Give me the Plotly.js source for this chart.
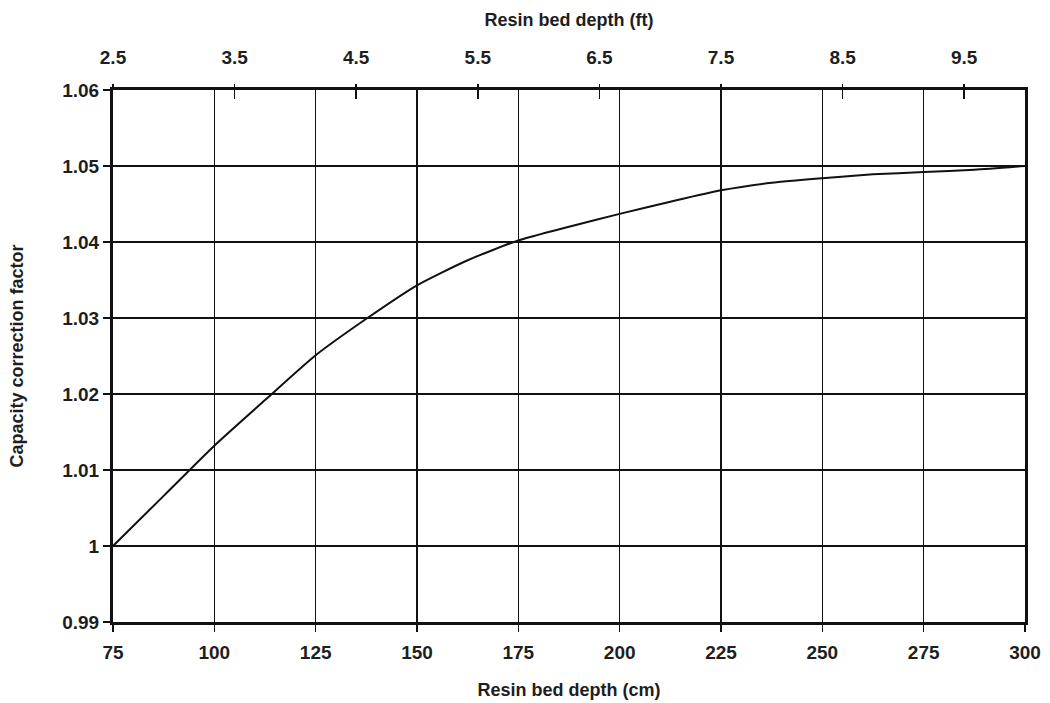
<!DOCTYPE html>
<html>
<head>
<meta charset="utf-8">
<script src="https://cdn.plot.ly/plotly-3.0.1.min.js"></script>
<style>
  html, body { margin: 0; padding: 0; background: #ffffff; }
  #chart { width: 1050px; height: 703px; }
</style>
</head>
<body>
<div id="chart"></div>
<script>
// Resin bed depth (cm) and the matching capacity correction factor
const depthCm = [75, 87.5, 100, 112.5, 125, 137.5, 150, 162.5, 175, 187.5, 200, 212.5, 225, 237.5, 250, 262.5, 275, 287.5, 300];
const correctionFactor = [1.0000, 1.0066, 1.0132, 1.0192, 1.0251, 1.0299, 1.0343, 1.0376, 1.0402, 1.0420, 1.0437, 1.0453, 1.0468, 1.0478, 1.0484, 1.0489, 1.0492, 1.0495, 1.0500];

// Axis ticks
const cmTicks = [75, 100, 125, 150, 175, 200, 225, 250, 275, 300];
const ftTicks = [2.5, 3.5, 4.5, 5.5, 6.5, 7.5, 8.5, 9.5];
const ftRange = [2.5, 10];
const factorTicks = [0.99, 1.00, 1.01, 1.02, 1.03, 1.04, 1.05, 1.06];
const factorLabels = ['0.99', '1', '1.01', '1.02', '1.03', '1.04', '1.05', '1.06'];

const CM_PER_FT = 30.48;
const depthFt = depthCm.map(c => c / CM_PER_FT);

const tickFont = { family: 'Liberation Sans, Arial, sans-serif', size: 19, color: '#1e1e1e', weight: 'bold' };
const titleFont = { family: 'Liberation Sans, Arial, sans-serif', size: 18, color: '#1e1e1e', weight: 'bold' };

const traces = [
  {
    x: depthCm,
    y: correctionFactor,
    type: 'scatter',
    mode: 'lines',
    line: { color: '#111111', width: 2, shape: 'spline', smoothing: 0.6 },
    hoverinfo: 'x+y',
    showlegend: false
  },
  // feet scale along the top edge (no visible marks)
  { x: depthFt, y: correctionFactor, xaxis: 'x2', type: 'scatter', mode: 'none', hoverinfo: 'skip', showlegend: false },
  { x: depthFt, y: correctionFactor, xaxis: 'x3', type: 'scatter', mode: 'none', hoverinfo: 'skip', showlegend: false }
];

const layout = {
  width: 1050,
  height: 703,
  margin: { l: 113, r: 25, t: 90, b: 81 },
  paper_bgcolor: '#ffffff',
  plot_bgcolor: '#ffffff',
  showlegend: false,
  xaxis: {
    range: [75, 300],
    tickmode: 'array',
    tickvals: cmTicks,
    ticktext: cmTicks.map(String),
    ticks: 'outside',
    ticklen: 7,
    tickwidth: 1.5,
    tickcolor: '#111111',
    tickfont: tickFont,
    ticklabelstandoff: 4,
    showgrid: true,
    gridcolor: '#111111',
    gridwidth: 1.5,
    zeroline: false,
    showline: true,
    linecolor: '#111111',
    linewidth: 3,
    mirror: true,
    title: { text: 'Resin bed depth (cm)', font: titleFont, standoff: 22 }
  },
  xaxis2: {
    overlaying: 'x',
    side: 'top',
    anchor: 'y',
    range: ftRange,
    tickmode: 'array',
    tickvals: ftTicks,
    ticktext: ftTicks.map(v => v.toFixed(1)),
    ticks: 'outside',
    ticklen: 5,
    tickwidth: 1.5,
    tickcolor: '#111111',
    tickfont: tickFont,
    ticklabelstandoff: 12,
    showgrid: false,
    zeroline: false,
    showline: false,
    title: { text: 'Resin bed depth (ft)', font: titleFont, standoff: 16 }
  },
  xaxis3: {
    overlaying: 'x',
    side: 'top',
    anchor: 'y',
    range: ftRange,
    tickmode: 'array',
    tickvals: ftTicks,
    ticks: 'inside',
    ticklen: 9,
    tickwidth: 1.5,
    tickcolor: '#111111',
    showticklabels: false,
    showgrid: false,
    zeroline: false,
    showline: false
  },
  yaxis: {
    range: [0.99, 1.06],
    tickmode: 'array',
    tickvals: factorTicks,
    ticktext: factorLabels,
    ticks: 'outside',
    ticklen: 7,
    tickwidth: 1.5,
    tickcolor: '#111111',
    tickfont: tickFont,
    showgrid: true,
    gridcolor: '#111111',
    gridwidth: 1.5,
    zeroline: false,
    showline: true,
    linecolor: '#111111',
    linewidth: 3,
    mirror: true,
    title: { text: 'Capacity correction factor', font: titleFont, standoff: 34 }
  }
};

Plotly.newPlot('chart', traces, layout, { displayModeBar: false, staticPlot: true });
</script>
</body>
</html>
